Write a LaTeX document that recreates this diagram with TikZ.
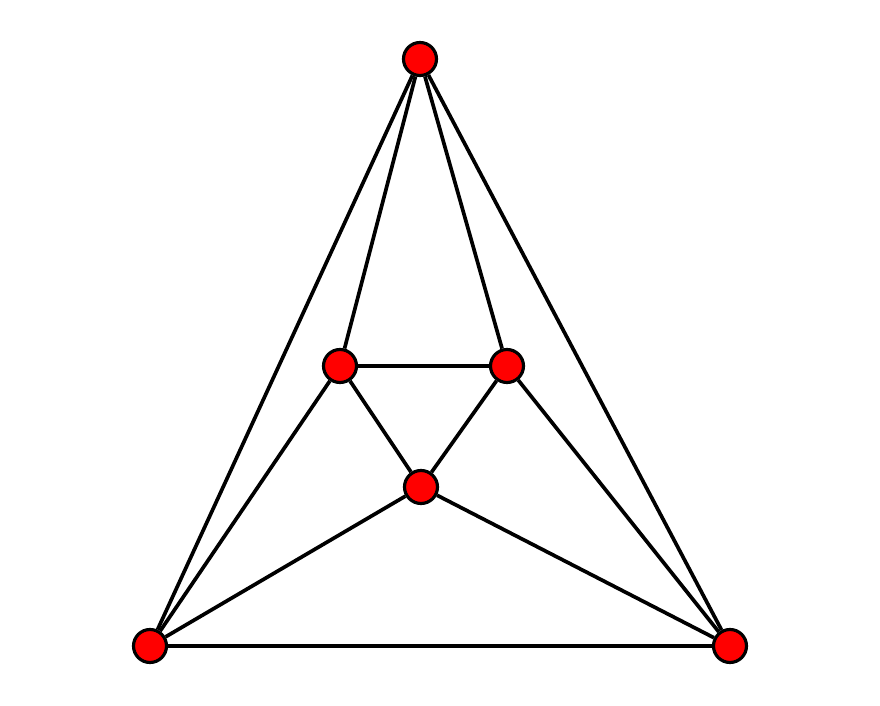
\documentclass[tikz,border=0pt]{standalone}
\begin{document}
\begin{tikzpicture}[x=0.02cm, y=-0.02cm,
  vertex/.style={circle, draw=black, fill=red, line width=1.8pt, minimum size=0.66cm, inner sep=0pt},
  edge/.style={line width=2.1pt, black}]
\useasboundingbox [fill=white] (0, 0) rectangle (880, 706);
\node [vertex] (top) at (420, 59) {};
\node [vertex] (inl) at (340, 366) {};
\node [vertex] (inr) at (507, 366) {};
\node [vertex] (mid) at (421, 487) {};
\node [vertex] (bl) at (150, 646) {};
\node [vertex] (br) at (730, 646) {};

\draw [edge] (top) -- (bl);
\draw [edge] (top) -- (br);
\draw [edge] (top) -- (inl);
\draw [edge] (top) -- (inr);
\draw [edge] (inl) -- (inr);
\draw [edge] (inl) -- (mid);
\draw [edge] (inr) -- (mid);
\draw [edge] (inl) -- (bl);
\draw [edge] (inr) -- (br);
\draw [edge] (mid) -- (bl);
\draw [edge] (mid) -- (br);
\draw [edge] (bl) -- (br);
\end{tikzpicture}
\end{document}
